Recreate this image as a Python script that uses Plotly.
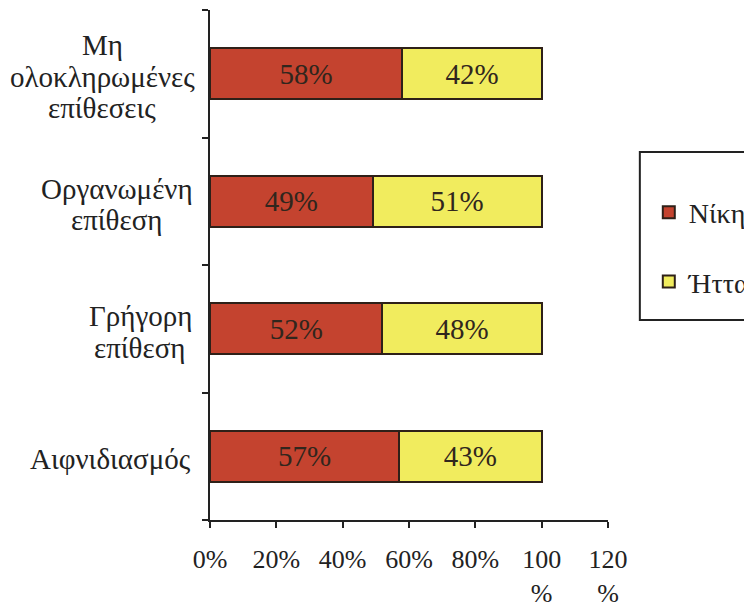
import plotly.graph_objects as go

categories = ["Μη ολοκληρωμένες επίθεσεις", "Οργανωμένη επίθεση", "Γρήγορη επίθεση", "Αιφνιδιασμός"]
label_lines = [["Μη", "ολοκληρωμένες", "επίθεσεις"], ["Οργανωμένη", "επίθεση"], ["Γρήγορη", "επίθεση"], ["Αιφνιδιασμός"]]
wins = [58, 49, 52, 57]
losses = [42, 51, 48, 43]
tick_vals = [0, 20, 40, 60, 80, 100, 120]
tick_text = ["0%", "20%", "40%", "60%", "80%", "100<br>%", "120<br>%"]

# horizontal centre of each label block, in px left of the plot area
label_center_shift = [-108, -93, -70, -100]

font_family = "Liberation Serif"
ink = "#222"

fig = go.Figure()
fig.add_trace(go.Bar(
    y=categories, x=wins, orientation="h", name="Νίκη",
    marker=dict(color="#C4432F", line=dict(color="#2e2018", width=2)),
    text=[f"{v}%" for v in wins], textposition="inside", insidetextanchor="middle",
    textfont=dict(family=font_family, size=29, color="#30261d"),
    width=0.4, legendgroup="a",
))
fig.add_trace(go.Bar(
    y=categories, x=losses, orientation="h", name="Ήττα",
    marker=dict(color="#F1EC5E", line=dict(color="#2e2018", width=2)),
    text=[f"{v}%" for v in losses], textposition="inside", insidetextanchor="middle",
    textfont=dict(family=font_family, size=29, color="#30261d"),
    width=0.4, legendgroup="b",
))

# category labels: centred lines, tight line spacing
line_gap = 31.5
for cat, lines, cx in zip(categories, label_lines, label_center_shift):
    n = len(lines)
    for i, ln in enumerate(lines):
        off = (i - (n - 1) / 2) * line_gap + 3
        fig.add_annotation(
            x=0, xref="paper", y=cat, yref="y", xanchor="center", yanchor="middle",
            xshift=cx, yshift=-off, text=ln, showarrow=False,
            font=dict(family=font_family, size=29, color=ink),
        )

# legend frame
fig.add_shape(
    type="rect", xref="paper", yref="paper",
    x0=1.080, x1=1.40, y0=0.392, y1=0.7216,
    line=dict(color=ink, width=2), fillcolor="rgba(0,0,0,0)", layer="above",
)

fig.update_layout(
    barmode="stack",
    width=744, height=601,
    margin=dict(l=202, r=144, t=2, b=89, autoexpand=False),
    paper_bgcolor="white", plot_bgcolor="white",
    font=dict(family=font_family, size=26, color=ink),
    showlegend=True,
    legend=dict(
        x=1.1025, y=0.652, xanchor="left", yanchor="top",
        borderwidth=0, bgcolor="rgba(0,0,0,0)",
        font=dict(family=font_family, size=28, color=ink),
        traceorder="grouped", tracegroupgap=30,
        itemwidth=30,
    ),
    xaxis=dict(
        range=[0, 120], tickvals=tick_vals, ticktext=tick_text,
        showgrid=False, zeroline=False, automargin=False,
        showline=True, linecolor=ink, linewidth=2,
        ticks="outside", ticklen=6, tickcolor=ink, tickwidth=2,
        tickfont=dict(family=font_family, size=26, color=ink),
        ticklabelstandoff=9,
    ),
    yaxis=dict(
        categoryorder="array", categoryarray=categories[::-1],
        showgrid=False, showline=True, linecolor=ink, linewidth=2,
        ticks="outside", ticklen=6, tickcolor=ink, tickwidth=2,
        tickson="boundaries", showticklabels=False, automargin=False,
    ),
)

fig.write_html("out.html")
